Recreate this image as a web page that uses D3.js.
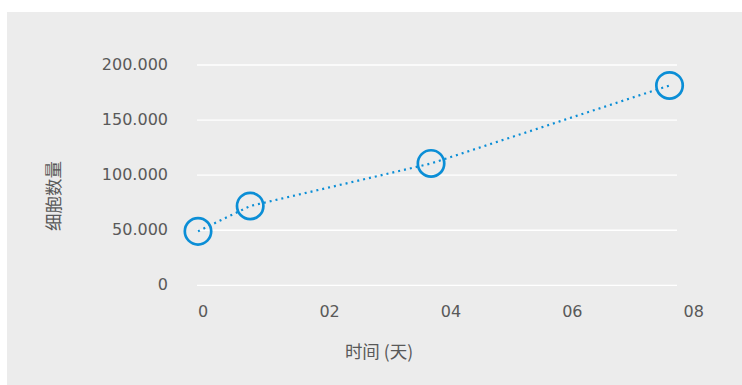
<!DOCTYPE html>
<html>
<head>
<meta charset="utf-8">
<script src="https://cdn.jsdelivr.net/npm/d3@7"></script>
<style>
  html, body { margin: 0; padding: 0; background: #ffffff; }
  svg { display: block; }
</style>
</head>
<body>
<svg id="chart" width="742" height="385"></svg>
<script>
// Cell growth over time
const days = [0, 0.86, 3.84, 7.77];
const cellCounts = [49000, 72000, 110600, 181400];
const xTicks = [0, 2, 4, 6, 8];
const xTickLabels = ["0", "02", "04", "06", "08"];
const yTicks = [0, 50000, 100000, 150000, 200000];
const xTitle = "时间 (天)";
const yTitle = "细胞数量";

const W = 742, H = 385;
const plot = { left: 197, right: 677, top: 65, bottom: 285.3 };
const blue = "#0b8ed6";
const textGray = "#595959";
const latin = "'DejaVu Sans', sans-serif";
const cjk = "'Noto Sans CJK SC', 'DejaVu Sans', sans-serif";

const svg = d3.select("#chart");

// panel background
svg.append("rect")
  .attr("x", 7).attr("y", 12)
  .attr("width", W - 7).attr("height", H - 12)
  .attr("fill", "#ececec");

const x = d3.scaleLinear().domain([0, 8]).range([198, 683.5]);
const y = d3.scaleLinear().domain([0, 200000]).range([plot.bottom, plot.top]);

const fmt = d3.formatLocale({ decimal: ",", thousands: ".", grouping: [3], currency: ["", ""] }).format(",.0f");

// horizontal gridlines
svg.append("g").selectAll("line")
  .data(yTicks).join("line")
  .attr("x1", plot.left).attr("x2", plot.right)
  .attr("y1", d => y(d)).attr("y2", d => y(d))
  .attr("stroke", "#ffffff").attr("stroke-width", 1.3);

// y tick labels
svg.append("g").selectAll("text")
  .data(yTicks).join("text")
  .attr("x", 168).attr("y", d => y(d) + 5)
  .attr("text-anchor", "end")
  .attr("font-family", latin).attr("font-size", 16)
  .attr("fill", textGray)
  .text(d => fmt(d));

// x tick labels
svg.append("g").selectAll("text")
  .data(xTicks).join("text")
  .attr("x", d => x(d)).attr("y", 316.5)
  .attr("text-anchor", "start")
  .attr("font-family", latin).attr("font-size", 16)
  .attr("fill", textGray)
  .text((d, i) => xTickLabels[i]);

// axis titles
svg.append("text")
  .attr("x", 379).attr("y", 358)
  .attr("text-anchor", "middle")
  .attr("font-family", cjk).attr("font-size", 17.5)
  .attr("fill", textGray)
  .text(xTitle);

svg.append("text")
  .attr("transform", "translate(59.5,196) rotate(-90)")
  .attr("text-anchor", "middle")
  .attr("font-family", cjk).attr("font-size", 17.5)
  .attr("fill", textGray)
  .text(yTitle);

const pts = days.map((d, i) => [d, cellCounts[i]]);

// dotted connecting line
svg.append("path")
  .datum(pts)
  .attr("d", d3.line().x(d => x(d[0])).y(d => y(d[1])))
  .attr("fill", "none")
  .attr("stroke", blue)
  .attr("stroke-width", 2.2)
  .attr("stroke-dasharray", "2 4");

// hollow circle markers
svg.append("g").selectAll("circle")
  .data(pts).join("circle")
  .attr("cx", d => x(d[0])).attr("cy", d => y(d[1]))
  .attr("r", 13.2)
  .attr("fill", "none")
  .attr("stroke", blue)
  .attr("stroke-width", 2.7);
</script>
</body>
</html>
